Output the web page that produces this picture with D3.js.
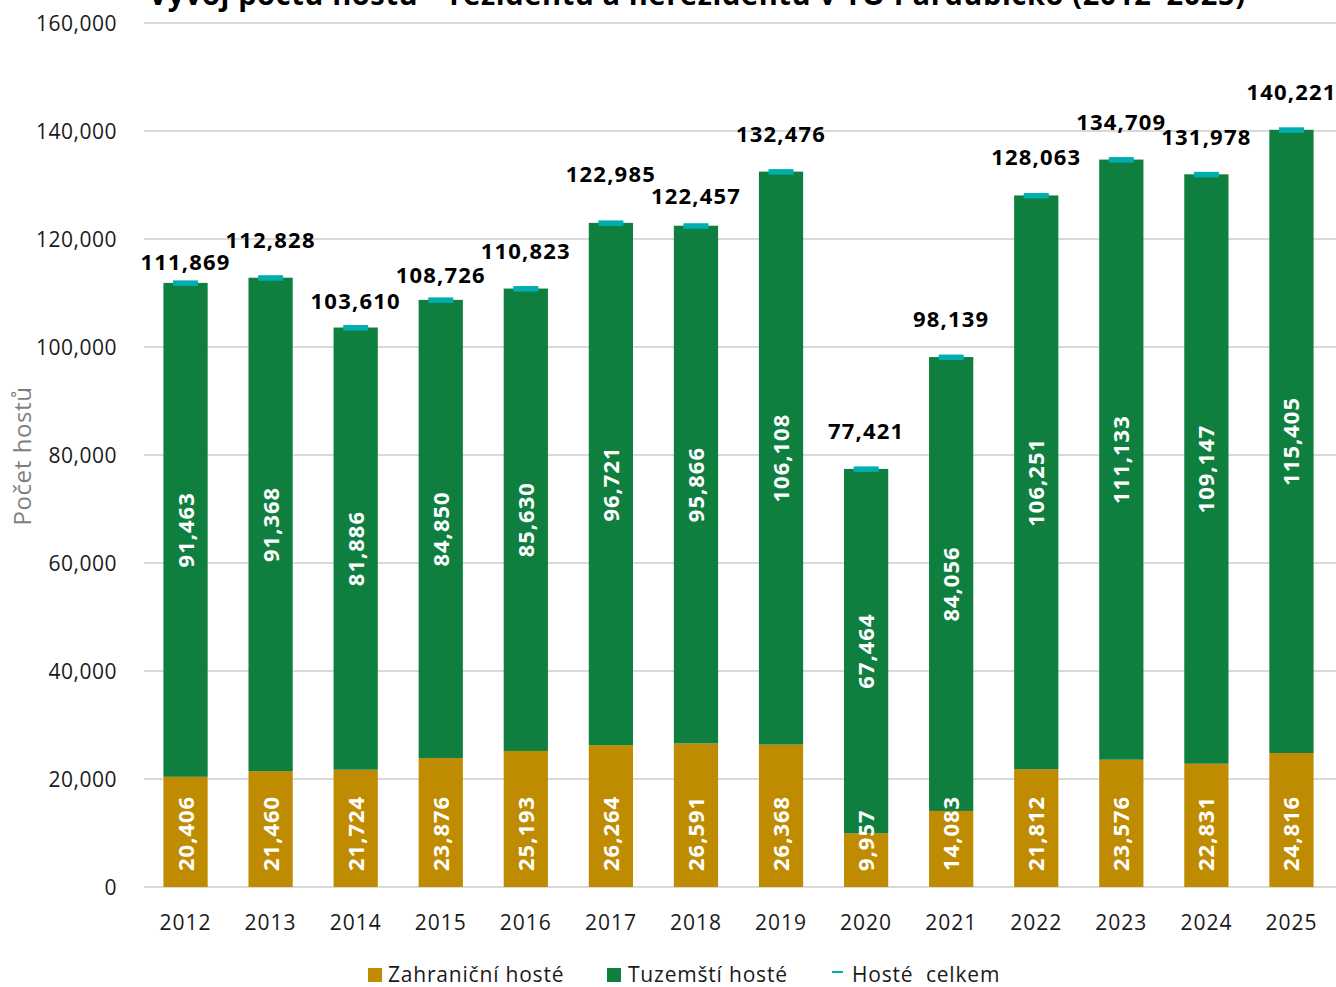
<!DOCTYPE html>
<html><head><meta charset="utf-8">
<script src="https://cdn.jsdelivr.net/npm/d3@7"></script>
<style>
body{margin:0;background:#fff;}
svg text{font-family:"Open Sans","Noto Sans",sans-serif;}
</style></head>
<body><svg id="c" width="1336" height="987"></svg>
<script>
const years = ["2012","2013","2014","2015","2016","2017","2018","2019","2020","2021","2022","2023","2024","2025"];
const foreignGuests = [20406,21460,21724,23876,25193,26264,26591,26368,9957,14083,21812,23576,22831,24816];
const domesticGuests = [91463,91368,81886,84850,85630,96721,95866,106108,67464,84056,106251,111133,109147,115405];
const totalGuests = [111869,112828,103610,108726,110823,122985,122457,132476,77421,98139,128063,134709,131978,140221];
const yTicks = [0,20000,40000,60000,80000,100000,120000,140000,160000];
// label placement (pixels above bar top, to label centre)
const totalLabelLift = [21,38,27,25,38,49,30,38,38,38,38,38,37,38];

const colors = {foreign:"#BF8B00", domestic:"#0F7F3F", total:"#00AEB0"};
const fmt = d3.format(",");
const svg = d3.select("#c");
const m = {left:143, right:1334, top:23, bottom:887};

const x = d3.scaleBand().domain(years).range([m.left, m.right]).paddingInner(0.48).paddingOuter(0.24);
const y = d3.scaleLinear().domain([0,160000]).range([m.bottom, m.top]);

// title (partially cut off at top)
svg.append("text").attr("x",697).attr("y",5).attr("text-anchor","middle")
  .attr("font-size",29).attr("font-weight","bold").attr("fill","#000").attr("letter-spacing",0.6)
  .text("Vývoj počtu hostů – rezidentů a nerezidentů v TO Pardubicko (2012–2025)");

// gridlines
const yAxis = d3.axisLeft(y).tickValues(yTicks).tickFormat(fmt).tickSize(0).tickPadding(0);
const gy = svg.append("g").attr("transform",`translate(117,0)`).call(yAxis);
gy.select(".domain").remove();
gy.selectAll("text").attr("font-size",21).attr("fill","#1a1a1a").attr("dy","0.35em").attr("letter-spacing",0.5);
svg.append("g").selectAll("line").data(yTicks).join("line")
  .attr("x1",m.left+1).attr("x2",1336).attr("y1",d=>y(d)).attr("y2",d=>y(d))
  .attr("stroke","#D9D9D9").attr("stroke-width",2);

// x axis
const xAxis = d3.axisBottom(x).tickSize(0).tickPadding(0);
const gx = svg.append("g").attr("transform",`translate(0,930)`).call(xAxis);
gx.select(".domain").remove();
gx.selectAll("text").attr("font-size",21).attr("fill","#1a1a1a").attr("dy",0).attr("letter-spacing",1);

const bw = x.bandwidth();
// bars
svg.append("g").selectAll("rect").data(years).join("rect")
  .attr("x",d=>x(d)).attr("width",bw)
  .attr("y",(d,i)=>y(foreignGuests[i])).attr("height",(d,i)=>y(0)-y(foreignGuests[i]))
  .attr("fill",colors.foreign);
svg.append("g").selectAll("rect").data(years).join("rect")
  .attr("x",d=>x(d)).attr("width",bw)
  .attr("y",(d,i)=>y(foreignGuests[i]+domesticGuests[i]))
  .attr("height",(d,i)=>y(foreignGuests[i])-y(foreignGuests[i]+domesticGuests[i]))
  .attr("fill",colors.domestic);
// total markers
svg.append("g").selectAll("rect").data(years).join("rect")
  .attr("x",d=>x(d)+bw/2-12.5).attr("width",25)
  .attr("y",(d,i)=>y(totalGuests[i])-2.5).attr("height",5.5)
  .attr("fill",colors.total);

// inside labels
svg.append("g").selectAll("text").data(years).join("text")
  .attr("transform",(d,i)=>`translate(${x(d)+bw/2+8},${y(0)-16}) rotate(-90)`)
  .attr("font-size",22).attr("font-weight","bold").attr("fill","#fff").attr("letter-spacing",1)
  .text((d,i)=>fmt(foreignGuests[i]));
svg.append("g").selectAll("text").data(years).join("text")
  .attr("transform",(d,i)=>`translate(${x(d)+bw/2+8},${y(foreignGuests[i]+domesticGuests[i]/2)}) rotate(-90)`)
  .attr("text-anchor","middle")
  .attr("font-size",22).attr("font-weight","bold").attr("fill","#fff").attr("letter-spacing",1)
  .text((d,i)=>fmt(domesticGuests[i]));
// total labels
svg.append("g").selectAll("text").data(years).join("text")
  .attr("x",d=>x(d)+bw/2).attr("y",(d,i)=>y(totalGuests[i])-totalLabelLift[i]+8)
  .attr("text-anchor","middle").attr("font-size",22).attr("font-weight","bold").attr("fill","#000")
  .attr("letter-spacing",1.2)
  .text((d,i)=>fmt(totalGuests[i]));

// y axis title
svg.append("text").attr("transform","translate(31,456) rotate(-90)").attr("text-anchor","middle")
  .attr("font-size",24).attr("fill","#7f7f7f").attr("letter-spacing",0.6).text("Počet hostů");

// legend
const lg = svg.append("g");
lg.append("rect").attr("x",368).attr("y",968).attr("width",14).attr("height",14).attr("fill",colors.foreign);
lg.append("text").attr("x",388).attr("y",982).attr("font-size",21).attr("fill","#1a1a1a").attr("letter-spacing",0.8).text("Zahraniční hosté");
lg.append("rect").attr("x",607).attr("y",968).attr("width",14).attr("height",14).attr("fill",colors.domestic);
lg.append("text").attr("x",628).attr("y",982).attr("font-size",21).attr("fill","#1a1a1a").attr("letter-spacing",0.8).text("Tuzemští hosté");
lg.append("rect").attr("x",832).attr("y",971).attr("width",11).attr("height",2).attr("fill",colors.total);
lg.append("text").attr("x",852).attr("y",982).attr("font-size",21).attr("fill","#1a1a1a").attr("letter-spacing",0.8).style("white-space","pre").text("Hosté  celkem");
</script></body></html>
